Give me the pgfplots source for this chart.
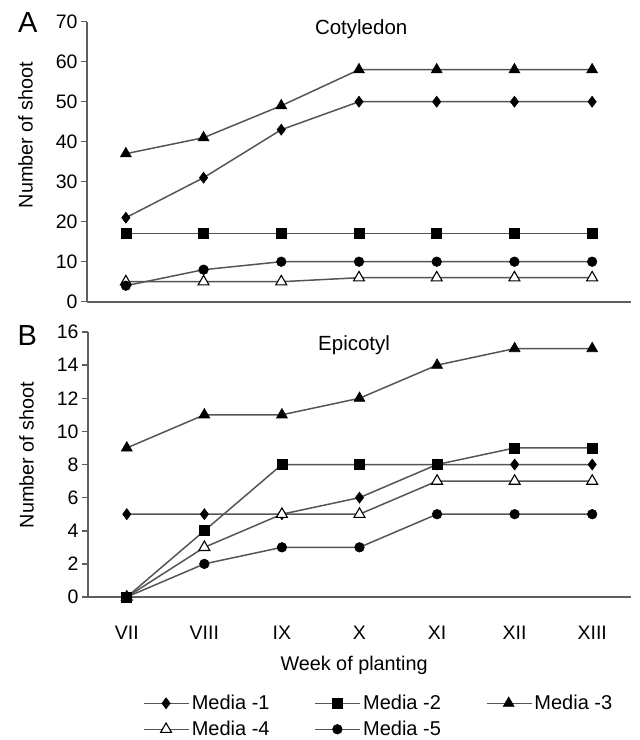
\documentclass[border=0pt]{standalone}
\usepackage{fontspec}
\setmainfont{Liberation Sans}
\usepackage{pgfplots}
\pgfplotsset{compat=1.18}
\definecolor{serie}{RGB}{85,85,85}
\definecolor{axgray}{RGB}{95,95,95}

\pgfplotsset{
  panel/.style={
    scale only axis,
    axis lines*=left,
    axis line style={axgray, line width=1.8pt},
    xmin=-0.5, xmax=6.5,
    xtick={0,...,6},
    tick align=outside,
    major tick length=6pt,
    ytick style={axgray, line width=1.5pt},
    xtick style={draw=none},
    tick label style={font=\fontsize{19.5}{22}\selectfont},
    /pgf/number format/assume math mode=true,
    label style={font=\fontsize{19.8}{24}\selectfont},
    title style={font=\fontsize{20.5}{24}\selectfont},
    clip=false,
    every axis plot/.append style={serie, line width=1.5pt,
      mark options={draw=black, fill=black, solid, line width=0.6pt}},
    legend image code/.code={
      \draw[mark repeat=2,mark phase=2] plot coordinates {(0pt,0pt) (22pt,0pt) (45pt,0pt)};},
  },
  m1/.style={mark=diamond*, mark size=5.5pt},
  m2/.style={mark=square*, mark size=5pt},
  m3/.style={mark=triangle*, mark size=6.3pt},
  m4/.style={mark=triangle*, mark size=6.3pt,
    mark options={draw=black, fill=white, solid, line width=1.1pt}},
  m5/.style={mark=*, mark size=4.8pt},
}

\begin{document}
\begin{tikzpicture}
\path[use as bounding box] (-87pt,21.7pt) rectangle (553pt,-718.3pt);

% Cotyledon
\begin{axis}[panel,
    at={(0pt,0pt)}, anchor=north west,
    width=544pt, height=280pt,
    ymin=0, ymax=70, ytick={0,10,...,70},
    xticklabels={},
    ylabel={Number of shoot},
    ylabel style={at={(axis description cs:-0.113,0.595)}, anchor=center},
    title={Cotyledon},
    title style={at={(axis description cs:0.504,1)}, anchor=base, yshift=-19pt},
  ]
  \addplot[m1] coordinates {(0,21) (1,31) (2,43) (3,50) (4,50) (5,50) (6,50)};
  \addplot[m2] coordinates {(0,17) (1,17) (2,17) (3,17) (4,17) (5,17) (6,17)};
  \addplot[m3] coordinates {(0,37) (1,41) (2,49) (3,58) (4,58) (5,58) (6,58)};
  \addplot[m4] coordinates {(0,5) (1,5) (2,5) (3,6) (4,6) (5,6) (6,6)};
  \addplot[m5] coordinates {(0,4) (1,8) (2,10) (3,10) (4,10) (5,10) (6,10)};
  \node[anchor=base, font=\fontsize{29}{32}\selectfont]
    at (axis description cs:-0.109,1) [yshift=-10.3pt] {A};
\end{axis}

% Epicotyl
\begin{axis}[panel,
    at={(1pt,-310.3pt)}, anchor=north west,
    width=543pt, height=265pt,
    ymin=0, ymax=16, ytick={0,2,...,16},
    xticklabels={VII,VIII,IX,X,XI,XII,XIII},
    xticklabel style={anchor=base, yshift=-36pt},
    xlabel={Week of planting},
    xlabel style={at={(axis description cs:0.49,0)}, anchor=base, yshift=-73pt},
    ylabel={Number of shoot},
    ylabel style={at={(axis description cs:-0.113,0.536)}, anchor=center},
    title={Epicotyl},
    title style={at={(axis description cs:0.49,1)}, anchor=base, yshift=-24pt},
    legend columns=3,
    legend style={draw=none, fill=none, font=\fontsize{20}{22}\selectfont,
      at={(axis description cs:0.096,-0.355)}, anchor=north west,
      row sep=6pt,
      /tikz/every even column/.append style={column sep=43pt}},
  ]
  \addplot[m1] coordinates {(0,5) (1,5) (2,5) (3,6) (4,8) (5,8) (6,8)};
  \addplot[m2] coordinates {(0,0) (1,4) (2,8) (3,8) (4,8) (5,9) (6,9)};
  \addplot[m3] coordinates {(0,9) (1,11) (2,11) (3,12) (4,14) (5,15) (6,15)};
  \addplot[m4] coordinates {(0,0) (1,3) (2,5) (3,5) (4,7) (5,7) (6,7)};
  \addplot[m5] coordinates {(0,0) (1,2) (2,3) (3,3) (4,5) (5,5) (6,5)};
  \legend{Media -1, Media -2, Media -3, Media -4, Media -5}
  \node[anchor=base, font=\fontsize{29}{32}\selectfont]
    at (axis description cs:-0.112,1) [yshift=-13pt] {B};
\end{axis}
\end{tikzpicture}
\end{document}
